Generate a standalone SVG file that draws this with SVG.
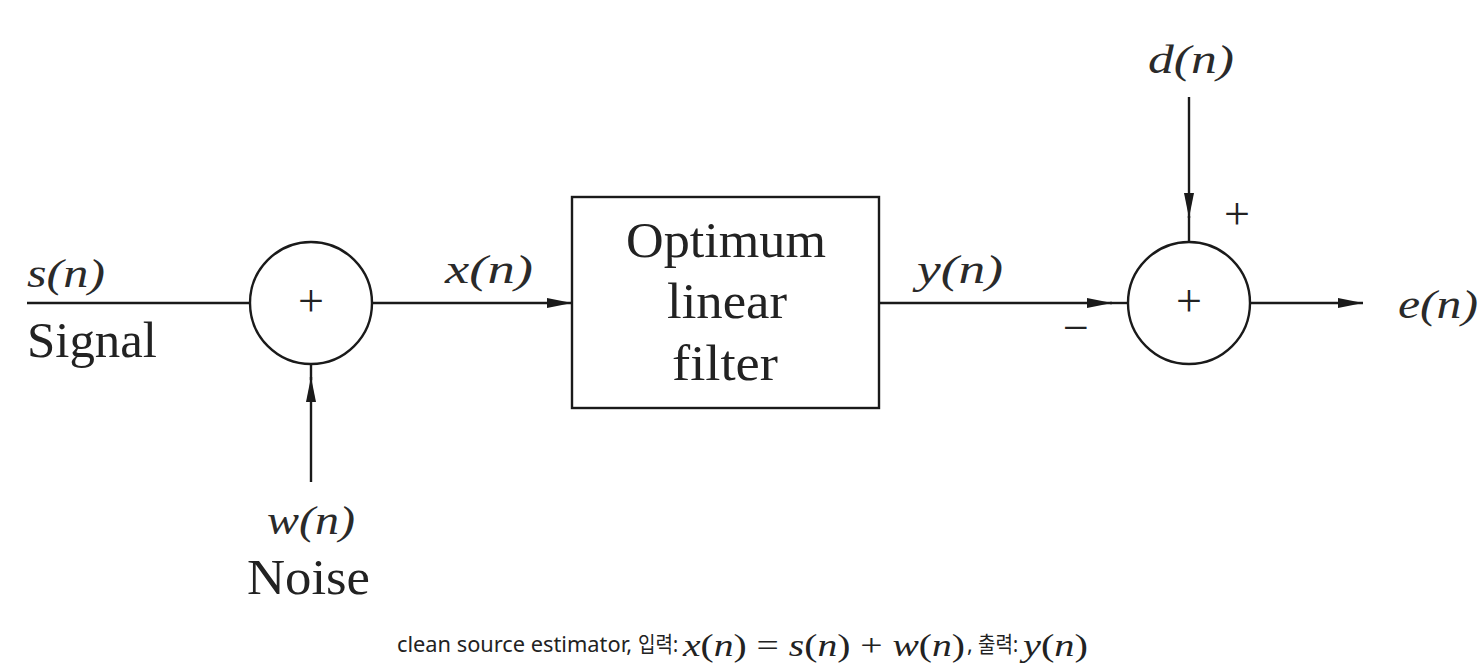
<svg xmlns="http://www.w3.org/2000/svg" width="1484" height="668" viewBox="0 0 1484 668">
<style>
.ln{stroke:#1a1a1a;stroke-width:2.4;fill:none}
.nd{stroke:#1a1a1a;stroke-width:2.4;fill:#fff}
.m{font-family:"Liberation Serif",serif;font-style:italic;font-size:40px;fill:#2a2a2a}
.r{font-family:"Liberation Serif",serif;font-size:50px;fill:#222}
.p{font-family:"Liberation Serif",serif;font-size:46px;fill:#222}
.c{font-family:"Noto Sans","Noto Sans CJK KR",sans-serif;font-size:21.5px;fill:#222}
.cm{font-family:"Liberation Serif",serif;font-style:italic;font-size:32px;fill:#222}
.cr{font-family:"Liberation Serif",serif;font-style:normal;font-size:32px;fill:#222}
</style>
<defs>
<marker id="ah" markerUnits="userSpaceOnUse" markerWidth="26" markerHeight="12" refX="25" refY="6" orient="auto">
<path d="M0,1 L25,6 L0,11 z" fill="#1a1a1a"/>
</marker>
</defs>
<g id="connectors">
<line class="ln" x1="27" y1="303" x2="250" y2="303"/>
<line class="ln" x1="372" y1="303" x2="572" y2="303" marker-end="url(#ah)"/>
<line class="ln" x1="879" y1="303" x2="1112" y2="303" marker-end="url(#ah)"/>
<line class="ln" x1="1110" y1="303" x2="1128" y2="303"/>
<line class="ln" x1="1250" y1="303" x2="1363" y2="303" marker-end="url(#ah)"/>
<line class="ln" x1="1189" y1="97" x2="1189" y2="218" marker-end="url(#ah)"/>
<line class="ln" x1="1189" y1="216" x2="1189" y2="242"/>
<line class="ln" x1="311" y1="482" x2="311" y2="377" marker-end="url(#ah)"/>
<line class="ln" x1="311" y1="380" x2="311" y2="364"/>
</g>
<g id="sum1">
<circle class="nd" cx="311" cy="303" r="61"/>
<text class="p" x="311" y="316" text-anchor="middle">+</text>
</g>
<g id="filter">
<rect class="nd" x="572" y="197" width="307" height="211"/>
<text class="r" x="626" y="257" textLength="200" lengthAdjust="spacingAndGlyphs">Optimum</text>
<text class="r" x="667" y="318" textLength="120" lengthAdjust="spacingAndGlyphs">linear</text>
<text class="r" x="672" y="380" textLength="106" lengthAdjust="spacingAndGlyphs">filter</text>
</g>
<g id="sum2">
<circle class="nd" cx="1189" cy="303" r="61"/>
<text class="p" x="1189" y="316" text-anchor="middle">+</text>
</g>
<g id="labels">
<text class="m" x="27" y="287" textLength="78" lengthAdjust="spacingAndGlyphs">s(n)</text>
<text class="r" x="27" y="357" textLength="130" lengthAdjust="spacingAndGlyphs">Signal</text>
<text class="m" x="445" y="283" textLength="88" lengthAdjust="spacingAndGlyphs">x(n)</text>
<text class="m" x="917" y="283" textLength="86" lengthAdjust="spacingAndGlyphs">y(n)</text>
<text class="m" x="1148" y="73" textLength="86" lengthAdjust="spacingAndGlyphs">d(n)</text>
<text class="m" x="1398" y="318" textLength="80" lengthAdjust="spacingAndGlyphs">e(n)</text>
<text class="m" x="267" y="534" textLength="88" lengthAdjust="spacingAndGlyphs">w(n)</text>
<text class="r" x="247" y="594" textLength="123" lengthAdjust="spacingAndGlyphs">Noise</text>
<text class="p" x="1237" y="229" text-anchor="middle">+</text>
<text class="p" x="1076" y="343" text-anchor="middle">−</text>
</g>
<g id="caption">
<text class="c" x="397" y="652" textLength="235" lengthAdjust="spacingAndGlyphs">clean source estimator,</text>
<text class="c" x="638" y="652" textLength="40" lengthAdjust="spacingAndGlyphs">입력:</text>
<text class="cm" x="683" y="656" textLength="282" lengthAdjust="spacingAndGlyphs">x<tspan class="cr">(</tspan>n<tspan class="cr">) = </tspan>s<tspan class="cr">(</tspan>n<tspan class="cr">) + </tspan>w<tspan class="cr">(</tspan>n<tspan class="cr">)</tspan></text>
<text class="c" x="967" y="652">,</text>
<text class="c" x="978" y="652" textLength="40" lengthAdjust="spacingAndGlyphs">출력:</text>
<text class="cm" x="1023" y="656" textLength="65" lengthAdjust="spacingAndGlyphs">y<tspan class="cr">(</tspan>n<tspan class="cr">)</tspan></text>
</g>
</svg>
